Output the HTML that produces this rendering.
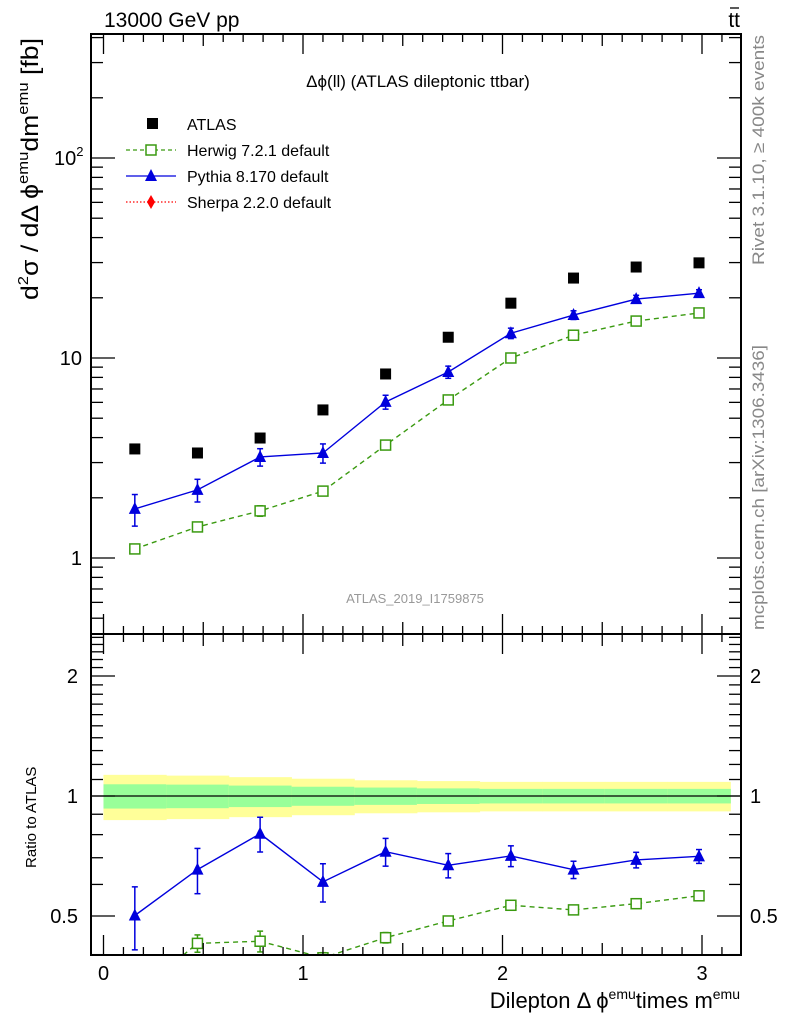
<!DOCTYPE html>
<html><head><meta charset="utf-8"><style>
html,body{margin:0;padding:0;background:#fff;}
svg{display:block;font-family:"Liberation Sans",sans-serif;}
</style></head><body>
<svg id="c" width="786" height="1024" xmlns="http://www.w3.org/2000/svg">
<g id="bands"></g><g id="series"></g><g id="axes"></g>
<text x="104" y="27" font-size="21">13000 GeV pp</text>
<text x="740" y="27" font-size="21" text-anchor="end">tt</text>
<line x1="730" y1="8" x2="739" y2="8" stroke="#000" stroke-width="1.3"/>
<text x="418" y="87" font-size="17" text-anchor="middle">Δϕ(ll) (ATLAS dileptonic ttbar)</text>
<text x="415" y="603" font-size="13" fill="#999" text-anchor="middle">ATLAS_2019_I1759875</text>
<text transform="translate(764,265) rotate(-90)" font-size="17" fill="#888" textLength="230" lengthAdjust="spacingAndGlyphs">Rivet 3.1.10, ≥ 400k events</text>
<text transform="translate(764,630) rotate(-90)" font-size="17" fill="#888" textLength="285" lengthAdjust="spacingAndGlyphs">mcplots.cern.ch [arXiv:1306.3436]</text>
<text transform="translate(38,300) rotate(-90)" font-size="24" textLength="262" lengthAdjust="spacingAndGlyphs">d<tspan font-size="15" dy="-10">2</tspan><tspan dy="10">σ / dΔ ϕ</tspan><tspan font-size="15" dy="-10">emu</tspan><tspan dy="10">dm</tspan><tspan font-size="15" dy="-10">emu</tspan><tspan dy="10"> [fb]</tspan></text>
<text transform="translate(36,868) rotate(-90)" font-size="15">Ratio to ATLAS</text>
<text x="740" y="1008" font-size="22" text-anchor="end">Dilepton Δ ϕ<tspan font-size="14" dy="-9">emu</tspan><tspan dy="9">times m</tspan><tspan font-size="14" dy="-9">emu</tspan></text>
<g font-size="16">
<rect x="147" y="118" width="11" height="11" fill="#000"/>
<text x="187" y="130">ATLAS</text>
<line x1="126" y1="150" x2="176" y2="150" stroke="#3a9a10" stroke-dasharray="4,3" stroke-width="1.3"/>
<rect x="146" y="145" width="10" height="10" fill="#fff" stroke="#3a9a10" stroke-width="1.5"/>
<text x="187" y="156">Herwig 7.2.1 default</text>
<line x1="126" y1="176" x2="176" y2="176" stroke="#0000dd" stroke-width="1.3"/>
<polygon points="151,169 157,181 145,181" fill="#0000dd"/>
<text x="187" y="182">Pythia 8.170 default</text>
<line x1="126" y1="202" x2="176" y2="202" stroke="#f00" stroke-dasharray="1.5,2" stroke-width="1.3"/>
<polygon points="151,195 155,202 151,209 147,202" fill="#f00"/>
<text x="187" y="208">Sherpa 2.2.0 default</text>
</g>
</svg>
<script>
const binCenters=[0.157,0.471,0.785,1.1,1.414,1.728,2.042,2.356,2.67,2.985];
const atlasValues=[3.51,3.35,3.98,5.5,8.32,12.7,18.8,25.1,28.5,29.9];
const pythiaValues=[1.76,2.19,3.2,3.35,6.03,8.51,13.3,16.4,19.7,21.1];
const pythiaRelErr=[0.18,0.13,0.1,0.11,0.08,0.07,0.06,0.05,0.045,0.04];
const herwigValues=[1.11,1.43,1.72,2.16,3.67,6.17,10.0,13.0,15.3,16.8];
const herwigRelErr=[0.03,0.05,0.06,0.03,0.03,0.02,0.02,0.02,0.02,0.02];
const yellowBand=[0.13,0.125,0.115,0.105,0.095,0.09,0.085,0.085,0.085,0.085];
const greenBand=[0.07,0.068,0.062,0.055,0.05,0.045,0.042,0.042,0.042,0.042];
const xTicks=[0,1,2,3];
const yTickLabels=[["1",1],["10",10]];
const ratioTicks=[["0.5",0.5],["1",1],["2",2]];
const NS="http://www.w3.org/2000/svg";
const L=91,R=741,T=34,M=634,B=955;
const X=v=>103.5+v*199.5;
const Y=v=>558-200*Math.log10(v);
const YR=v=>796-398.6*Math.log10(v);
function mk(p,tag,a){const e=document.createElementNS(NS,tag);for(const k in a)e.setAttribute(k,a[k]);p.appendChild(e);return e;}
const ax=document.getElementById('axes'),sr=document.getElementById('series'),bd=document.getElementById('bands');
const hw=Math.PI/20;
binCenters.forEach((c,i)=>{
 const y=mk(bd,'rect',{x:X(c-hw),y:YR(1+yellowBand[i]),width:X(c+hw)-X(c-hw)+0.5,height:YR(1-yellowBand[i])-YR(1+yellowBand[i]),fill:'#ffff99'});
 
 
 const g=mk(bd,'rect',{x:X(c-hw),y:YR(1+greenBand[i]),width:X(c+hw)-X(c-hw)+0.5,height:YR(1-greenBand[i])-YR(1+greenBand[i]),fill:'#99ff99'});
 
 
});
mk(bd,'line',{x1:L,x2:R,y1:YR(1),y2:YR(1),stroke:'#000','stroke-width':1.2});
const defs=mk(document.getElementById('c'),'defs',{});
const cp=mk(defs,'clipPath',{id:'rc'});mk(cp,'rect',{x:L,y:M,width:R-L,height:B-M});
const rg=mk(sr,'g',{'clip-path':'url(#rc)'});
function series(vals,rel,color,dash,marker,name){
 [[sr,Y,v=>v],[rg,YR,(v,i)=>v/atlasValues[i]]].forEach(([p,YF,tf])=>{
  const pts=vals.map((v,i)=>X(binCenters[i])+','+YF(tf(v,i))).join(' ');
  const l=mk(p,'polyline',{points:pts,fill:'none',stroke:color,'stroke-width':1.4});
  if(dash)l.setAttribute('stroke-dasharray',dash);
  
  
  vals.forEach((v,i)=>{
   const x=X(binCenters[i]),val=tf(v,i),y=YF(val),y1=YF(val*(1+rel[i])),y2=YF(val*(1-rel[i]));
   mk(p,'line',{x1:x,x2:x,y1:y1,y2:y2,stroke:color,'stroke-width':1.5});
   mk(p,'line',{x1:x-3,x2:x+3,y1:y1,y2:y1,stroke:color,'stroke-width':1.5});
   mk(p,'line',{x1:x-3,x2:x+3,y1:y2,y2:y2,stroke:color,'stroke-width':1.5});
   let m;
   if(marker==='sq')m=mk(p,'rect',{x:x-5,y:y-5,width:10,height:10,fill:'#fff',stroke:color,'stroke-width':1.5});
   else m=mk(p,'polygon',{points:`${x},${y-7} ${x+6},${y+5} ${x-6},${y+5}`,fill:color});
   
   
  });
 });
}
series(herwigValues,herwigRelErr,'#3a9a10','5,4','sq','herwig');
series(pythiaValues,pythiaRelErr,'#0000dd',null,'tri','pythia');
atlasValues.forEach((v,i)=>{
 const r=mk(sr,'rect',{x:X(binCenters[i])-5.5,y:Y(v)-5.5,width:11,height:11,fill:'#000'});
 
 
});
[[T,M],[M,B]].forEach(([a,b])=>mk(ax,'rect',{x:L,y:a,width:R-L,height:b-a,fill:'none',stroke:'#000','stroke-width':2}));
for(let k=0;k<=31;k++){const v=k/10,x=X(v);if(x>R)break;const len=k%10===0?20:(k%5===0?12:8);
 [T,M].forEach(t=>mk(ax,'line',{x1:x,x2:x,y1:t,y2:t+len,stroke:'#000','stroke-width':1.3}));
 [M,B].forEach(t=>mk(ax,'line',{x1:x,x2:x,y1:t,y2:t-len,stroke:'#000','stroke-width':1.3}));}
xTicks.forEach(v=>{const t=mk(ax,'text',{x:X(v),y:980,'font-size':20,'text-anchor':'middle'});t.textContent=v;
 });
for(let d=-1;d<=2;d++)for(let m=1;m<=9;m++){const v=m*Math.pow(10,d),y=Y(v);if(y<T||y>M)continue;const len=m===1?24:12;
 mk(ax,'line',{x1:L,x2:L+len,y1:y,y2:y,stroke:'#000','stroke-width':1.3});mk(ax,'line',{x1:R,x2:R-len,y1:y,y2:y,stroke:'#000','stroke-width':1.3});}
yTickLabels.forEach(([s,v])=>{const t=mk(ax,'text',{x:82,y:Y(v)+7,'font-size':20,'text-anchor':'end'});t.textContent=s;
 });
{const t=mk(ax,'text',{x:54,y:Y(100)+7,'font-size':20});t.innerHTML='10<tspan font-size="13" dy="-9">2</tspan>';
 }
for(let k=4;k<=25;k++){const v=k/10,y=YR(v);if(y<M||y>B)continue;const big=(v===0.5||v===1||v===2);const len=big?24:12;
 mk(ax,'line',{x1:L,x2:L+len,y1:y,y2:y,stroke:'#000','stroke-width':1.3});mk(ax,'line',{x1:R,x2:R-len,y1:y,y2:y,stroke:'#000','stroke-width':1.3});}
ratioTicks.forEach(([s,v])=>{const t=mk(ax,'text',{x:78,y:YR(v)+7,'font-size':20,'text-anchor':'end'});t.textContent=s;
 
 const t2=mk(ax,'text',{x:750,y:YR(v)+7,'font-size':20});t2.textContent=s;
 });
</script>
</body></html>
